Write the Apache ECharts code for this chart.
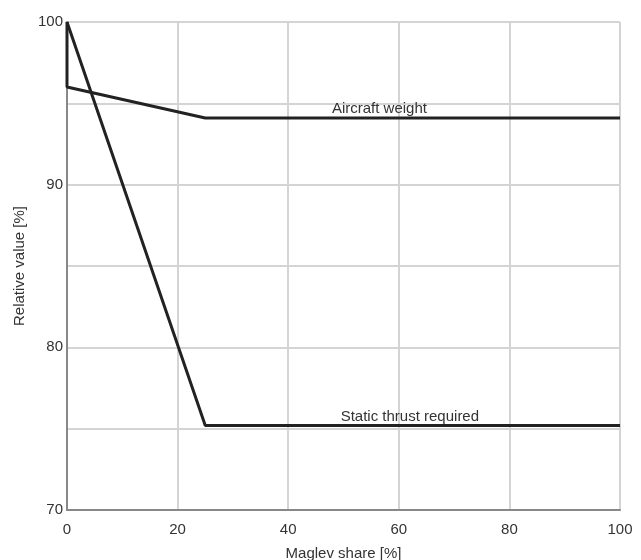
<!DOCTYPE html>
<html>
<head>
<meta charset="utf-8">
<script src="https://cdn.jsdelivr.net/npm/echarts@6/dist/echarts.min.js"></script>
<style>
  html, body { margin: 0; padding: 0; background: #fff; }
</style>
</head>
<body>
<div id="chart" style="width:641px; height:560px;"></div>
<script>
// Maglev share [%] vs relative value [%]
const weightX = [0, 0, 25, 100];
const weightY = [100, 96, 94.1, 94.1];
const thrustX = [0, 25, 100];
const thrustY = [100, 75.2, 75.2];
const yTicks = [70, 80, 90, 100];

const chart = echarts.init(document.getElementById("chart"));

const zip = (xs, ys) => xs.map((x, i) => [x, ys[i]]);

const textStyle = {
  fontFamily: "Liberation Sans",
  fontSize: 15,
  color: "#333"
};

let option = {
  animation: false,
  grid: {
    left: 67,
    right: 21,
    top: 22,
    bottom: 50,
    outerBoundsMode: "none"
  },
  xAxis: {
    type: "value",
    min: 0,
    max: 100,
    interval: 20,
    name: "Maglev share [%]",
    nameLocation: "middle",
    nameGap: 36,
    nameTextStyle: textStyle,
    axisLine: { lineStyle: { color: "#888", width: 2 } },
    axisTick: { show: false },
    axisLabel: Object.assign({ margin: 12 }, textStyle),
    splitLine: { lineStyle: { color: "#d4d4d4", width: 2 } }
  },
  yAxis: {
    type: "value",
    min: 70,
    max: 100,
    interval: 5,
    name: "Relative value [%]",
    nameLocation: "middle",
    nameGap: 40,
    nameTextStyle: textStyle,
    axisLine: { show: true, lineStyle: { color: "#888", width: 2 } },
    axisTick: { show: false },
    axisLabel: Object.assign({
      margin: 4,
      formatter: v => (yTicks.includes(v) ? String(v) : "")
    }, textStyle),
    splitLine: { lineStyle: { color: "#d4d4d4", width: 2 } }
  },
  series: [
    {
      name: "Aircraft weight",
      type: "line",
      symbol: "none",
      lineStyle: { color: "#222", width: 3 },
      data: zip(weightX, weightY),
      markPoint: {
        symbol: "circle",
        symbolSize: 1,
        itemStyle: { color: "rgba(0,0,0,0)" },
        label: Object.assign({ show: true, position: "top", distance: 1, formatter: "Aircraft weight" }, textStyle),
        data: [{ coord: [56.5, 94.1] }]
      }
    },
    {
      name: "Static thrust required",
      type: "line",
      symbol: "none",
      lineStyle: { color: "#222", width: 3 },
      data: zip(thrustX, thrustY),
      markPoint: {
        symbol: "circle",
        symbolSize: 1,
        itemStyle: { color: "rgba(0,0,0,0)" },
        label: Object.assign({ show: true, position: "top", distance: 1, formatter: "Static thrust required" }, textStyle),
        data: [{ coord: [62, 75.2] }]
      }
    }
  ]
};

chart.setOption(option);
window.addEventListener("resize", () => chart.resize(), false);
</script>
</body>
</html>
